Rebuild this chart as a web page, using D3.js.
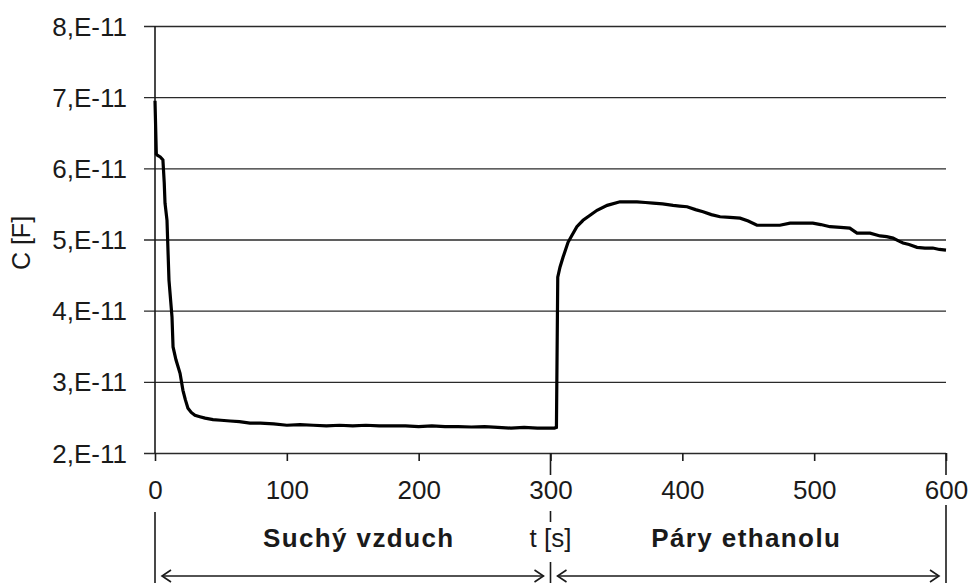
<!DOCTYPE html>
<html>
<head>
<meta charset="utf-8">
<script src="https://cdn.jsdelivr.net/npm/d3@7"></script>
<style>
  html, body { margin: 0; padding: 0; background: #fff; }
  svg { display: block; font-family: "Liberation Sans", Arial, sans-serif; }
</style>
</head>
<body>
<svg id="chart" width="969" height="583"></svg>
<script>
// Capacitance of the sensor versus time: dry air, then ethanol vapour
const timeS = [0, 1, 2, 4, 6, 7, 7.6, 9.1, 10.6, 12.9, 13.7, 15.9, 19, 21.2, 23, 25, 27.5, 30.3, 34, 38,
  44, 50, 57, 64, 72, 80, 90, 100, 110, 120, 130, 140, 150, 160, 170, 180, 190, 200, 210, 220,
  230, 240, 250, 260, 270, 280, 290, 298, 303, 304.5, 305.5, 307.2, 309.5, 313.3, 316.3, 320,
  324.7, 330, 335.3, 343, 352.7, 360, 365.6, 372, 377.8, 385, 393, 398, 403.6, 410, 415.7, 422,
  428.6, 436, 443.8, 450, 456.6, 465, 474, 481.7, 490, 499, 505, 512, 520, 527, 532.5, 542.4,
  550, 555, 559.8, 564, 567.4, 572, 578, 584, 590, 595, 600];

const capacitanceF = [6.95e-11, 6.2e-11, 6.18e-11, 6.16e-11, 6.12e-11, 5.8e-11, 5.51e-11, 5.27e-11,
  4.43e-11, 3.91e-11, 3.49e-11, 3.31e-11, 3.12e-11, 2.88e-11, 2.75e-11, 2.63e-11, 2.57e-11, 2.53e-11,
  2.51e-11, 2.49e-11, 2.47e-11, 2.46e-11, 2.45e-11, 2.44e-11, 2.42e-11, 2.42e-11, 2.41e-11, 2.39e-11,
  2.40e-11, 2.39e-11, 2.38e-11, 2.39e-11, 2.38e-11, 2.39e-11, 2.38e-11, 2.38e-11, 2.38e-11, 2.37e-11,
  2.38e-11, 2.37e-11, 2.37e-11, 2.365e-11, 2.37e-11, 2.36e-11, 2.35e-11, 2.36e-11, 2.35e-11, 2.35e-11,
  2.35e-11, 2.36e-11, 4.47e-11, 4.61e-11, 4.75e-11, 4.96e-11, 5.06e-11, 5.18e-11, 5.27e-11, 5.34e-11,
  5.41e-11, 5.48e-11, 5.53e-11, 5.53e-11, 5.53e-11, 5.52e-11, 5.51e-11, 5.50e-11, 5.48e-11, 5.47e-11,
  5.46e-11, 5.42e-11, 5.39e-11, 5.35e-11, 5.32e-11, 5.31e-11, 5.30e-11, 5.26e-11, 5.20e-11, 5.20e-11,
  5.20e-11, 5.23e-11, 5.23e-11, 5.23e-11, 5.21e-11, 5.18e-11, 5.17e-11, 5.16e-11, 5.09e-11, 5.09e-11,
  5.05e-11, 5.04e-11, 5.02e-11, 4.98e-11, 4.95e-11, 4.93e-11, 4.89e-11, 4.88e-11, 4.88e-11, 4.86e-11,
  4.85e-11];

const xTicks = [0, 100, 200, 300, 400, 500, 600];
const yTicks = [2e-11, 3e-11, 4e-11, 5e-11, 6e-11, 7e-11, 8e-11];
const yTitle = "C [F]";
const xTitle = "t [s]";
const phaseLabels = ["Suchý vzduch", "Páry ethanolu"];
const phaseBounds = [[0, 300], [300, 600]];

const margin = { left: 155, top: 26 };
const plotW = 791, plotH = 427;
const ink = "#1a1a1a";

const svg = d3.select("#chart");
const g = svg.append("g").attr("transform", `translate(${margin.left},${margin.top})`);

const x = d3.scaleLinear().domain([0, 600]).range([0, plotW]);
const y = d3.scaleLinear().domain([2e-11, 8e-11]).range([plotH, 0]);

// Y axis with full-width gridlines
const yAxis = g.append("g")
  .call(d3.axisLeft(y).tickValues(yTicks).tickSize(11)
    .tickFormat(d => `${Math.round(d * 1e11)},E-11`));
yAxis.select(".domain").remove();
yAxis.selectAll(".tick line")
  .attr("x1", -11).attr("x2", plotW)
  .attr("stroke", "#2a2a2a").attr("stroke-width", 1.4);
yAxis.selectAll(".tick text")
  .attr("x", -28).attr("dy", "0.35em")
  .attr("fill", ink).style("font-size", "26px");

// Vertical axis line
g.append("line")
  .attr("x1", 0).attr("x2", 0).attr("y1", 0).attr("y2", plotH)
  .attr("stroke", ink).attr("stroke-width", 1.6);

// X axis
const xAxis = g.append("g").attr("transform", `translate(0,${plotH})`)
  .call(d3.axisBottom(x).tickValues(xTicks).tickSize(8));
xAxis.select(".domain").remove();
xAxis.selectAll(".tick line").attr("stroke", ink).attr("stroke-width", 1.6);
xAxis.selectAll(".tick text")
  .attr("y", 46).attr("dy", 0)
  .attr("fill", ink).style("font-size", "26px");

// Data curve
const line = d3.line()
  .x((d, i) => x(timeS[i]))
  .y(d => y(d));
g.append("path")
  .datum(capacitanceF)
  .attr("fill", "none")
  .attr("stroke", "#000")
  .attr("stroke-width", 3.2)
  .attr("stroke-linejoin", "miter")
  .attr("d", line);

// Y title
svg.append("text")
  .attr("transform", "translate(30,243) rotate(-90)")
  .attr("text-anchor", "middle")
  .attr("fill", ink)
  .style("font-size", "25px")
  .text(yTitle);

// Phase divider lines below the axis
const base = margin.top + plotH;
const seg = (t, y1, y2) => svg.append("line")
  .attr("x1", margin.left + x(t)).attr("x2", margin.left + x(t))
  .attr("y1", y1).attr("y2", y2)
  .attr("stroke", ink).attr("stroke-width", 1.6);
seg(0, 512, 583);
seg(300, base, 475); seg(300, 511, 522); seg(300, 562, 583);
seg(600, base, 475); seg(600, 505, 583);

// x axis title
svg.append("text")
  .attr("x", margin.left + x(300)).attr("y", 547)
  .attr("text-anchor", "middle").attr("fill", ink)
  .style("font-size", "26px")
  .text(xTitle);

// Phase labels and double-headed arrows
const arrowY = 576;
const labelShift = [6, -2];
phaseBounds.forEach((b, i) => {
  const x0 = margin.left + x(b[0]) + 7;
  const x1 = margin.left + x(b[1]) - 7;
  svg.append("line")
    .attr("x1", x0).attr("x2", x1).attr("y1", arrowY).attr("y2", arrowY)
    .attr("stroke", ink).attr("stroke-width", 1.6);
  svg.append("path")
    .attr("d", `M${x0 + 9},${arrowY - 6} L${x0},${arrowY} L${x0 + 9},${arrowY + 6}`)
    .attr("fill", "none").attr("stroke", ink).attr("stroke-width", 1.6);
  svg.append("path")
    .attr("d", `M${x1 - 9},${arrowY - 6} L${x1},${arrowY} L${x1 - 9},${arrowY + 6}`)
    .attr("fill", "none").attr("stroke", ink).attr("stroke-width", 1.6);
  svg.append("text")
    .attr("x", margin.left + x((b[0] + b[1]) / 2) + labelShift[i])
    .attr("y", 547)
    .attr("text-anchor", "middle").attr("fill", ink)
    .style("font-size", "26px").style("font-weight", "bold")
    .style("letter-spacing", "1.4px")
    .text(phaseLabels[i]);
});
</script>
</body>
</html>
